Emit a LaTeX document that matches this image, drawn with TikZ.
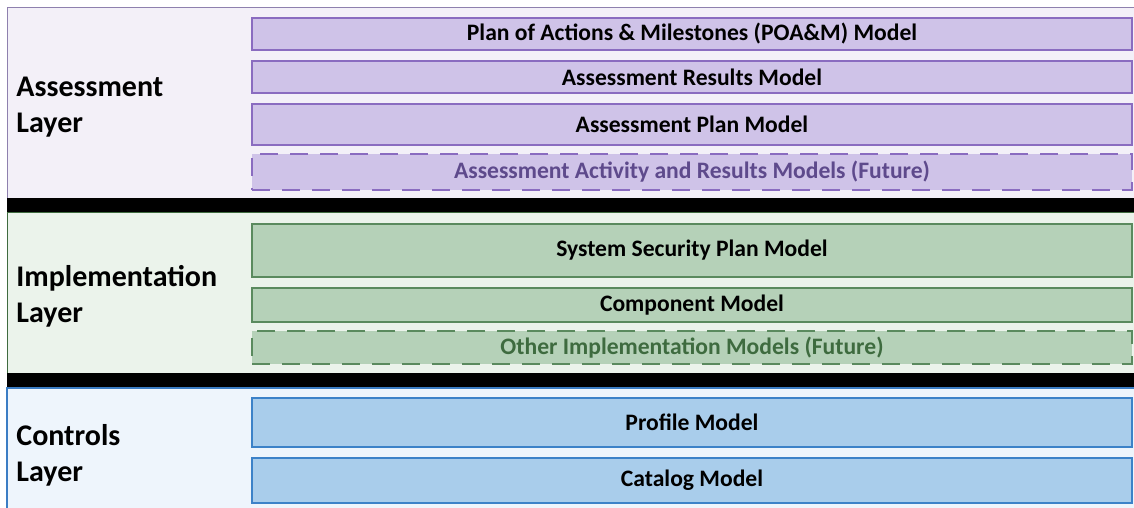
\documentclass[tikz,border=0pt]{standalone}
\usepackage{fontspec}
\setmainfont{Carlito}

\definecolor{assessBg}{HTML}{F3F0F8}
\definecolor{assessEdge}{HTML}{8E80AE}
\definecolor{assessFill}{HTML}{CFC3E8}
\definecolor{assessLine}{HTML}{8A6CC0}
\definecolor{assessText}{HTML}{5E4A8C}
\definecolor{implBg}{HTML}{EBF3EB}
\definecolor{implEdge}{HTML}{3F6B3F}
\definecolor{implFill}{HTML}{B5D1B8}
\definecolor{implLine}{HTML}{5A8A5E}
\definecolor{implText}{HTML}{3E6B3F}
\definecolor{ctrlBg}{HTML}{EEF5FC}
\definecolor{ctrlEdge}{HTML}{3B7DC4}
\definecolor{ctrlFill}{HTML}{A9CDEB}
\definecolor{ctrlLine}{HTML}{3C82C8}

\begin{document}
\begin{tikzpicture}[
    x=0.5pt, y=-0.5pt,
    model/.style={rectangle, draw, line width=1pt, minimum width=440pt, inner sep=0pt, align=center, font=\fontsize{11.8}{14}\selectfont\bfseries},
    future/.style={model, dash pattern=on 9pt off 6pt},
    layername/.style={anchor=west, align=left, inner sep=0pt, font=\fontsize{15}{18}\selectfont\bfseries}
]
    \useasboundingbox (0,0) rectangle (1134,508);

    % Assessment
    \filldraw[fill=assessBg, draw=assessEdge, line width=0.5pt] (7,8) rectangle (1140,198);
    \node[layername] (assess-name) at (16,107) {Assessment\\Layer};
    \node[model, fill=assessFill, draw=assessLine, minimum height=16pt] (poam) at (692,34) {Plan of Actions \& Milestones (POA\&M) Model};
    \node[model, fill=assessFill, draw=assessLine, minimum height=16pt] (results) at (692,77) {Assessment Results Model};
    \node[model, fill=assessFill, draw=assessLine, minimum height=20.5pt] (plan) at (692,124.5) {Assessment Plan Model};
    \node[future, fill=assessFill, draw=assessLine, text=assessText, minimum height=18pt] (activity) at (692,172) {Assessment Activity and Results Models (Future)};

    \fill[black] (7,198) rectangle (1140,212);

    % Implementation
    \filldraw[fill=implBg, draw=implEdge, line width=0.5pt] (7,212) rectangle (1140,373);
    \node[layername] (impl-name) at (16,296) {Implementation\\Layer};
    \node[model, fill=implFill, draw=implLine, minimum height=26.5pt] (ssp) at (692,250.5) {System Security Plan Model};
    \node[model, fill=implFill, draw=implLine, minimum height=17pt] (component) at (692,305) {Component Model};
    \node[future, fill=implFill, draw=implLine, text=implText, minimum height=16.5pt] (other) at (692,347.5) {Other Implementation Models (Future)};

    \fill[black] (7,373) rectangle (1140,388);

    % Controls
    \filldraw[fill=ctrlBg, draw=ctrlEdge, line width=0.75pt] (7,388) rectangle (1140,520);
    \node[layername] (ctrl-name) at (16,455) {Controls\\Layer};
    \node[model, fill=ctrlFill, draw=ctrlLine, minimum height=24.5pt] (profile) at (692,422.5) {Profile Model};
    \node[model, fill=ctrlFill, draw=ctrlLine, minimum height=22.5pt] (catalog) at (692,480.5) {Catalog Model};
\end{tikzpicture}
\end{document}
